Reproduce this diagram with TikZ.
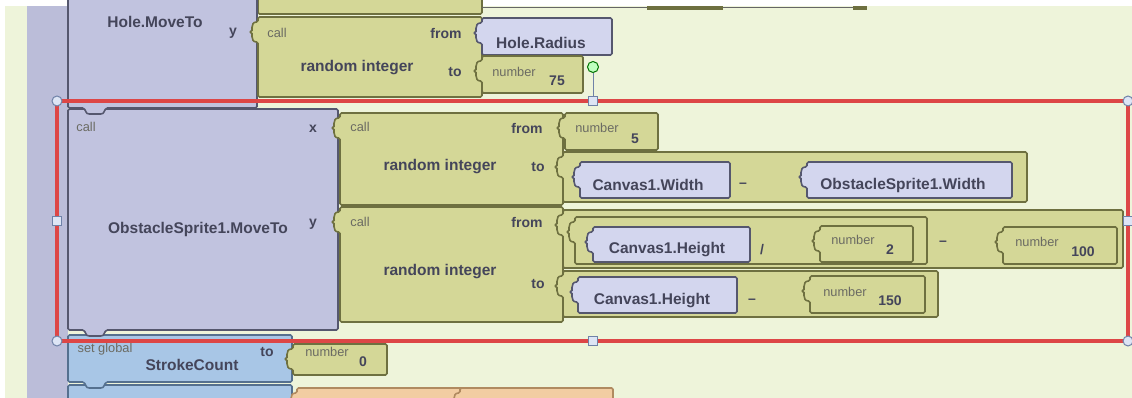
\documentclass[tikz,border=0pt]{standalone}
\usepackage{fontspec}
\setmainfont{Liberation Sans}
\usetikzlibrary{shapes.geometric}

\definecolor{bgcream}{HTML}{EEF4DA}
\definecolor{outerstrip}{HTML}{BBBDD9}
\definecolor{blkpurple}{HTML}{C1C3DF}
\definecolor{pedge}{HTML}{55576E}
\definecolor{blkgetter}{HTML}{D3D6EE}
\definecolor{blkyellow}{HTML}{D4D797}
\definecolor{yedge}{HTML}{6E7040}
\definecolor{blkblue}{HTML}{A8C6E6}
\definecolor{bedge}{HTML}{55708F}
\definecolor{blkorange}{HTML}{F2CDA2}
\definecolor{oedge}{HTML}{B08A60}
\definecolor{selred}{HTML}{DD4646}
\definecolor{hfill}{HTML}{DDE5F5}
\definecolor{hedge}{HTML}{6F82A8}
\definecolor{txtdark}{HTML}{44455A}
\definecolor{txtsmall}{HTML}{6B6B63}

\tikzstyle{yblock} = [fill=blkyellow, draw=yedge, line width=1.6pt, rounded corners=1.5pt]
\tikzstyle{pblock} = [fill=blkpurple, draw=pedge, line width=1.6pt, rounded corners=1.5pt]
\tikzstyle{gblock} = [fill=blkgetter, draw=pedge, line width=1.6pt, rounded corners=1.5pt]
\tikzstyle{bblock} = [fill=blkblue, draw=bedge, line width=1.6pt, rounded corners=1.5pt]
\tikzstyle{oblock} = [fill=blkorange, draw=oedge, line width=1.6pt, rounded corners=1.5pt]
\tikzstyle{lbl} = [font=\fontsize{15.5}{17}\selectfont\bfseries, text=txtdark, inner sep=0pt]
\tikzstyle{arg} = [font=\fontsize{14}{16}\selectfont\bfseries, text=txtdark, inner sep=0pt]
\tikzstyle{small} = [font=\fontsize{12.8}{14}\selectfont, text=txtsmall, inner sep=0pt]
\tikzstyle{selbox} = [draw=selred, line width=4.5pt]
\tikzstyle{hcirc} = [circle, draw=hedge, fill=hfill, line width=1pt, minimum size=10pt, inner sep=0pt]
\tikzstyle{hsq} = [rectangle, draw=hedge, fill=hfill, line width=1pt, minimum size=9pt, inner sep=0pt]
\tikzstyle{rothandle} = [circle, draw=green!45!black, fill=green!25!white, line width=1pt, minimum size=11pt, inner sep=0pt]

% block that plugs into a socket on its left
\newcommand{\plugblk}[5]{\draw[#1] (#2,#3) -- (#4,#3) -- (#4,#5) -- (#2,#5) -- (#2,#3+25)
  .. controls (#2-5,#3+25) and (#2-6,#3+22) .. (#2-6,#3+18)
  .. controls (#2-6,#3+16) .. (#2-9,#3+15)
  .. controls (#2-6,#3+14) .. (#2-6,#3+12)
  .. controls (#2-6,#3+8) and (#2-5,#3+5) .. (#2,#3+5) -- cycle;}
% statement block with a tab under it
\newcommand{\stmtblk}[5]{\draw[#1] (#2,#3) -- (#4,#3) -- (#4,#5) -- (#2+38,#5)
  .. controls (#2+35,#5+6) .. (#2+31,#5+6) -- (#2+23,#5+6)
  .. controls (#2+19,#5+6) .. (#2+16,#5) -- (#2,#5) -- cycle;}

\begin{document}
\begin{tikzpicture}[x=1pt, y=-1pt]
  \useasboundingbox (0,0) rectangle (1132,398);
  \fill[bgcream] (0,0) rectangle (1132,398);
  \fill[white] (0,0) rectangle (1132,6);
  \fill[white] (0,0) rectangle (5,398);
  \fill[outerstrip] (27,6) rectangle (68,398);

  % row above
  \plugblk{yblock}{258}{-60}{482}{14}
  \draw[black!60, line width=1.5pt] (482,7.5) -- (855,7.5);
  \fill[yedge] (647,6.5) rectangle (723,10);
  \fill[yedge] (853,6) rectangle (867,10);

  % statement blocks, bottom first
  \stmtblk{bblock}{68}{385}{292}{440}
  \plugblk{oblock}{297}{388}{613}{440}
  \plugblk{oblock}{460}{388}{613}{440}
  \stmtblk{bblock}{68}{335}{292}{382}
  \stmtblk{pblock}{68}{109}{338}{330}
  \stmtblk{pblock}{68}{-20}{257}{108}

  % Hole.MoveTo y
  \plugblk{yblock}{258}{17}{482}{97}
  \plugblk{gblock}{482}{18}{612}{55}
  \plugblk{yblock}{482}{56}{583}{93}
  \node[lbl] (hole) at (155,22) {Hole.MoveTo};
  \node[arg] (holeY) at (233,33) {y};
  \node[small] (call1) at (277,33) {call};
  \node[lbl] (rand1) at (357,68) {random integer};
  \node[arg] (from1) at (446,33) {from};
  \node[arg] (to1) at (455,72) {to};
  \node[lbl] (radius) at (541,43) {Hole.Radius};
  \node[small] (n75lbl) at (514,72) {number};
  \node[arg] (n75) at (557,81) {75};

  % ObstacleSprite1.MoveTo x
  \plugblk{yblock}{340}{113}{563}{205}
  \plugblk{yblock}{565}{113}{658}{150}
  \plugblk{yblock}{563}{152}{1027}{202}
  \plugblk{gblock}{580}{162}{730}{198}
  \plugblk{gblock}{807}{162}{1012}{198}

  % ObstacleSprite1.MoveTo y
  \plugblk{yblock}{340}{207}{563}{322}
  \plugblk{yblock}{563}{210}{1123}{268}
  \plugblk{yblock}{575}{217}{927}{264}
  \plugblk{gblock}{593}{227}{750}{262}
  \plugblk{yblock}{820}{226}{913}{262}
  \plugblk{yblock}{1003}{227}{1117}{264}
  \plugblk{yblock}{563}{271}{938}{317}
  \plugblk{gblock}{578}{277}{737}{313}
  \plugblk{yblock}{810}{276}{925}{313}

  \node[small] (call2) at (86,127) {call};
  \node[lbl] (moveTo) at (198,229) {ObstacleSprite1.MoveTo};
  \node[arg] (argX) at (313,129) {x};
  \node[arg] (argY) at (313,224) {y};
  \node[small] (call3) at (360,127) {call};
  \node[small] (call4) at (360,222) {call};
  \node[lbl] (rand2) at (440,167) {random integer};
  \node[lbl] (rand3) at (440,272) {random integer};
  \node[arg] (from2) at (527,128) {from};
  \node[arg] (to2) at (538,167) {to};
  \node[arg] (from3) at (527,222) {from};
  \node[arg] (to3) at (538,284) {to};
  \node[small] (n5lbl) at (597,128) {number};
  \node[arg] (n5) at (635,139) {5};
  \node[lbl] (cw) at (648,185) {Canvas1.Width};
  \node[arg] (minus1) at (743,185) {–};
  \node[lbl] (osw) at (903,185) {ObstacleSprite1.Width};
  \node[lbl] (ch1) at (667,250) {Canvas1.Height};
  \node[arg] (slash) at (762,250) {/};
  \node[small] (n2lbl) at (853,240) {number};
  \node[arg] (n2) at (890,250) {2};
  \node[arg] (minus2) at (943,243) {–};
  \node[small] (n100lbl) at (1037,242) {number};
  \node[arg] (n100) at (1083,252) {100};
  \node[lbl] (ch2) at (652,301) {Canvas1.Height};
  \node[arg] (minus3) at (752,301) {–};
  \node[small] (n150lbl) at (845,292) {number};
  \node[arg] (n150) at (890,301) {150};

  % set global StrokeCount
  \plugblk{yblock}{293}{344}{387}{375}
  \node[small] (setg) at (105,349) {set global};
  \node[lbl] (stroke) at (192,365) {StrokeCount};
  \node[arg] (toS) at (267,352) {to};
  \node[small] (n0lbl) at (327,352) {number};
  \node[arg] (n0) at (363,362) {0};

  % selection
  \coordinate (selNW) at (57,101);
  \coordinate (selSE) at (1128,341);
  \draw[selbox] (selNW) rectangle (selSE);
  \node[hcirc] (hNW) at (57,101) {};
  \node[hcirc] (hNE) at (1128,101) {};
  \node[hcirc] (hSW) at (57,341) {};
  \node[hcirc] (hSE) at (1128,341) {};
  \node[hsq] (hW) at (57,221) {};
  \node[hsq] (hE) at (1128,221) {};
  \node[hsq] (hN) at (593,101) {};
  \node[hsq] (hS) at (593,341) {};
  \node[rothandle] (hRot) at (593,67) {};
  \draw[hedge, line width=1pt] (hRot) -- (hN);
\end{tikzpicture}
\end{document}
